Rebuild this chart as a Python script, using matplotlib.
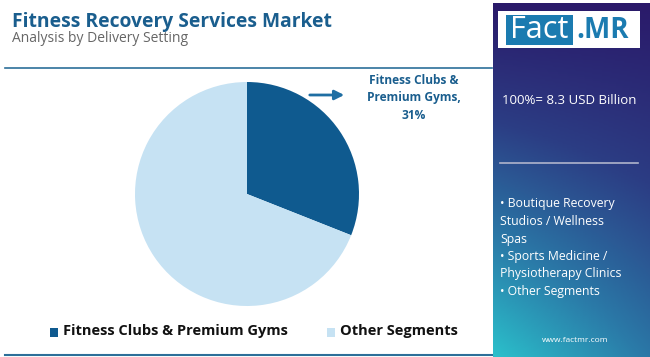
import numpy as np
import matplotlib.pyplot as plt
from matplotlib.colors import LinearSegmentedColormap
from matplotlib.patches import Rectangle

# данные
labels = ['Fitness Clubs & Premium Gyms', 'Other Segments']
shares = [31, 69]
colors = ['#0f5a8f', '#c6e2f3']
total_label = '100%= 8.3 USD Billion'
other_items = ['• Boutique Recovery', 'Studios / Wellness', 'Spas',
               '• Sports Medicine /', 'Physiotherapy Clinics', '• Other Segments']

plt.rcParams['font.family'] = ['Open Sans', 'DejaVu Sans']

W, H = 650, 357
fig = plt.figure(figsize=(6.5, 3.57), dpi=100)
fig.patch.set_facecolor('white')

def fx(x): return x / W
def fy(y): return 1 - y / H

# заголовок
fig.text(fx(12), fy(22), 'Fitness Recovery Services Market', fontsize=13.9,
         fontweight='bold', color='#1a5e8e', va='center', ha='left')
fig.text(fx(12), fy(38), 'Analysis by Delivery Setting', fontsize=10,
         color='#666666', va='center', ha='left')

# линии
fig.add_artist(plt.Line2D([fx(5), fx(492)], [fy(68), fy(68)], color='#2c6f99', lw=1.2))
fig.add_artist(plt.Line2D([fx(5), fx(492)], [fy(355), fy(355)], color='#2c6f99', lw=1.5))

# правая панель с градиентом (сверху справа фиолетовый, снизу слева бирюзовый)
pax = fig.add_axes([fx(493), 0, fx(W - 493), fy(3)])
xx, yy = np.meshgrid(np.linspace(0, 1, 100), np.linspace(0, 1, 200))
grad = np.clip(0.65 * yy + 0.35 * (1 - xx) * yy, 0, 1)
cmap = LinearSegmentedColormap.from_list('p', ['#2a1a6a', '#2c3d84', '#2a7aa8', '#2bc0cb'])
pax.imshow(grad, cmap=cmap, aspect='auto', extent=[0, 1, 0, 1], origin='upper')
pax.set_xlim(0, 1)
pax.set_ylim(0, 1)
pax.axis('off')

# логотип
fig.add_artist(Rectangle((fx(498), fy(48)), fx(142), 37 / H, facecolor='white',
                         edgecolor='none', transform=fig.transFigure))
fig.add_artist(Rectangle((fx(506), fy(45)), fx(67), 30 / H, facecolor='#1b7bb0',
                         edgecolor='none', transform=fig.transFigure))
fig.text(fx(539), fy(30), 'Fact', fontsize=22, color='white', ha='center', va='center')
fig.text(fx(603), fy(30), '.MR', fontsize=20, color='#1b7bb0', fontweight='bold',
         ha='center', va='center')

fig.text(fx(502), fy(101), total_label, fontsize=9.5, color='white', ha='left', va='center')
fig.add_artist(plt.Line2D([fx(500), fx(638)], [fy(163), fy(163)], color='#b0b4cc', lw=1.2))
for i, t in enumerate(other_items):
    fig.text(fx(500), fy(204 + i * 17.5), t, fontsize=8.8, color='white', ha='left', va='center')
fig.text(fx(575), fy(340), 'www.factmr.com', fontsize=6, color='white', ha='center', va='center')

# круговая диаграмма
r = 112
cx, cy = 247, 194
ax = fig.add_axes([fx(cx - r), fy(cy + r), 2 * r / W, 2 * r / H])
ax.pie(shares, colors=colors, startangle=90, counterclock=False,
       wedgeprops=dict(linewidth=0))
ax.set_aspect('auto')
ax.set_xlim(-1, 1)
ax.set_ylim(-1, 1)
ax.axis('off')

# подпись
fig.text(fx(414), fy(98), 'Fitness Clubs &\nPremium Gyms,\n31%', fontsize=8.6,
         fontweight='bold', color='#1a5e8e', ha='center', va='center', linespacing=1.45)
fig.add_artist(plt.Annotation('', xy=(fx(347), fy(95)), xytext=(fx(307), fy(95)),
                              xycoords='figure fraction',
                              arrowprops=dict(arrowstyle='-|>', color='#1f6ea3', lw=2,
                                              mutation_scale=14)))

# легенда
for x0, lab, c in [(50, labels[0], colors[0]), (327, labels[1], colors[1])]:
    fig.add_artist(Rectangle((fx(x0), fy(337)), fx(8), 9 / H, facecolor=c,
                             edgecolor='none', transform=fig.transFigure))
    fig.text(fx(x0 + 13), fy(331), lab, fontsize=10.5, fontweight='bold',
             color='#111111', ha='left', va='center')

fig.savefig('out.png', dpi=100)
